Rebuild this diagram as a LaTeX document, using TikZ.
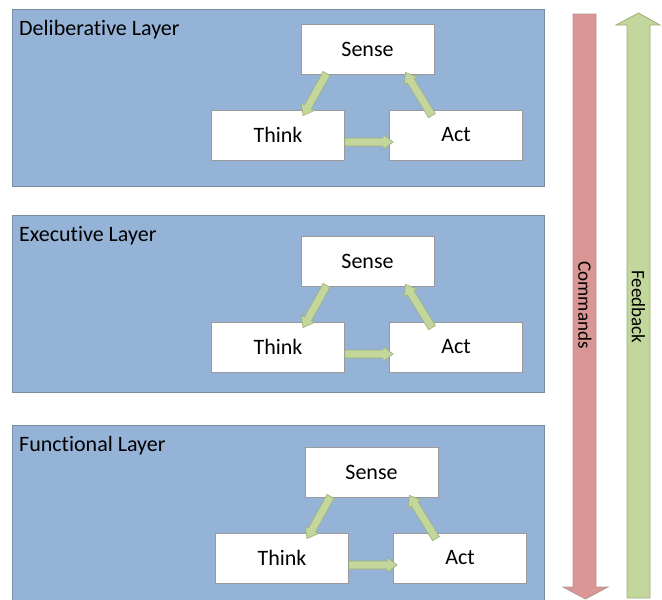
\documentclass[tikz,border=0pt]{standalone}
\usepackage{fontspec}
\setmainfont{Carlito}[Ligatures={NoCommon}]
\usetikzlibrary{calc}
\definecolor{layerfill}{HTML}{95B3D7}
\definecolor{layerdraw}{HTML}{7A8CA3}
\definecolor{boxdraw}{HTML}{9A9A9A}
\definecolor{gfill}{HTML}{C3D69B}
\definecolor{gdraw}{HTML}{9DAF7A}
\definecolor{rfill}{HTML}{D99694}
\definecolor{rdraw}{HTML}{B49796}
\definecolor{txt}{HTML}{000000}
\tikzset{
  layer/.style={draw=layerdraw, fill=layerfill, line width=0.8pt, minimum width=532pt, minimum height=177pt, inner sep=0pt},
  lbl/.style={anchor=base west, inner sep=0pt, text=txt, font=\fontsize{22}{24}\selectfont},
  box/.style={draw=boxdraw, fill=white, line width=0.8pt, minimum width=133pt, minimum height=50pt, inner sep=0pt, text=txt, font=\fontsize{22}{24}\selectfont},
  garrow/.style={draw=gdraw, fill=gfill, line width=0.6pt, line join=miter},
  bigred/.style={draw=rdraw, fill=rfill, line width=0.8pt},
  biggreen/.style={draw=gdraw, fill=gfill, line width=0.8pt},
  vlabel/.style={rotate=-90, inner sep=0pt, text=txt, font=\fontsize{19}{21}\selectfont}
}
\newcommand\blockarr[2]{%
  \path[garrow] let \p1=(#1), \p2=(#2), \n1={atan2(\y2-\y1,\x2-\x1)}, \n2={veclen(\x2-\x1,\y2-\y1)-10} in
    ($(\p1)+(\n1+90:4pt)$) -- ($(\p1)+(\n1:\n2)+(\n1+90:4pt)$) -- ($(\p1)+(\n1:\n2)+(\n1+90:7.5pt)$)
    -- (\p2) -- ($(\p1)+(\n1:\n2)+(\n1-90:7.5pt)$) -- ($(\p1)+(\n1:\n2)+(\n1-90:4pt)$)
    -- ($(\p1)+(\n1-90:4pt)$) -- cycle;}
\begin{document}
\begin{tikzpicture}[x=1pt,y=-1pt]
\useasboundingbox (0,0) rectangle (662,600);
\clip (0,0) rectangle (662,600);
\foreach \i/\ty/\by/\bx/\name in {1/9/0/0/Deliberative Layer, 2/215/212/0/Executive Layer, 3/425/423/4/Functional Layer} {
  \node[layer, anchor=north west] (L\i) at (12,\ty) {};
  \node[lbl] (N\i) at ($(L\i.north west)+(7,26.5)$) {\name};
  \node[box] (S\i) at (367.5+\bx,49+\by) {Sense};
  \node[box] (T\i) at (278+\bx,135+\by) {Think};
  \node[box] (A\i) at (456+\bx,135+\by) {Act};
  \coordinate (st\i) at ($(S\i.south west)+(26,-1)$);
  \coordinate (tt\i) at ($(T\i.north)+(25,6)$);
  \coordinate (as\i) at ($(A\i.north)+(-24,6)$);
  \coordinate (sa\i) at ($(S\i.south)+(38,-2)$);
  \coordinate (ta\i) at ($(T\i.east)+(0,7)$);
  \coordinate (at\i) at ($(A\i.west)+(4,7)$);
  \blockarr{st\i}{tt\i}
  \blockarr{as\i}{sa\i}
  \blockarr{ta\i}{at\i}
}
% Commands arrow (down)
\path[bigred] (573,14) -- (596,14) -- (596,587) -- (608,587) -- (585.5,599) -- (563,587) -- (573,587) -- cycle;
\node[vlabel] (cmd) at (585,305) {Commands};
% Feedback arrow (up)
\path[biggreen] (627,598) -- (650,598) -- (650,25) -- (660,25) -- (638.5,13) -- (616,25) -- (627,25) -- cycle;
\node[vlabel] (fb) at (638.5,307) {Feedback};
\end{tikzpicture}
\end{document}
